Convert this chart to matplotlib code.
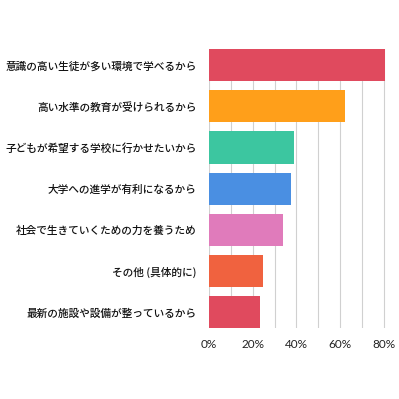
import matplotlib
matplotlib.use("Agg")
import matplotlib.pyplot as plt

plt.rcParams['font.family'] = ['Noto Sans CJK JP', 'DejaVu Sans']

labels = ['意識の高い生徒が多い環境で学べるから',
          '高い水準の教育が受けられるから',
          '子どもが希望する学校に行かせたいから',
          '大学への進学が有利になるから',
          '社会で生きていくための力を養うため',
          'その他 (具体的に)',
          '最新の施設や設備が整っているから']
values = [80.6, 62.1, 38.8, 37.3, 33.7, 24.7, 23.4]
colors = ['#E04A5E', '#FF9F1A', '#3CC6A0', '#4A8FE2', '#E07BBB', '#F0623F', '#E04A5E']
xticks = [0, 20, 40, 60, 80]

fig = plt.figure(figsize=(3.99, 3.99), dpi=100)
ax = fig.add_axes([0.524, 0.177, 0.476, 0.700])

pos = list(range(len(labels)))
ax.barh(pos, values, height=0.78, color=colors, zorder=2)
ax.set_ylim(len(labels) - 0.61, -0.39)
ax.set_xlim(0, 87)

ax.set_xticks(range(10, 90, 10), minor=True)
ax.grid(axis='x', which='both', color='#d0d0d0', linewidth=0.8, zorder=0)
ax.set_xticks(xticks)
ax.set_xticklabels([f'{v}%' for v in xticks], family=['Lato', 'DejaVu Sans'],
                   fontsize=8.5, color='#222222')
ax.set_yticks(pos)
ax.set_yticklabels(labels, fontsize=7.7, fontweight='medium', color='#111111')
ax.tick_params(axis='both', which='both', length=0)
ax.tick_params(axis='y', pad=9)
ax.tick_params(axis='x', pad=8)
for s in ax.spines.values():
    s.set_visible(False)

fig.savefig('out.png', dpi=100)
